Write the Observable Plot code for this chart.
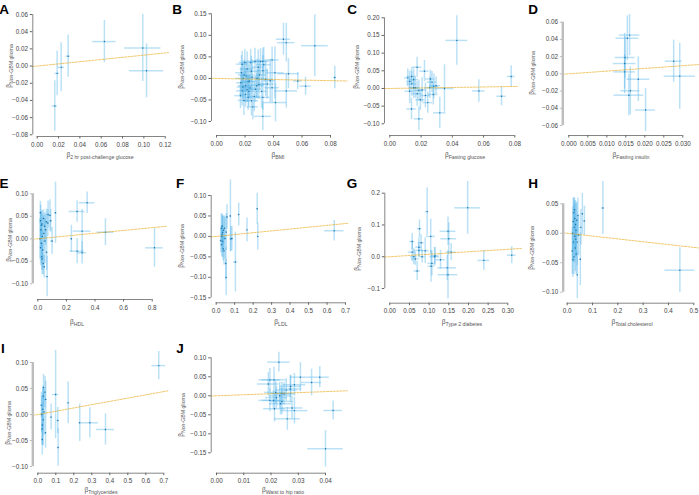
<!DOCTYPE html>
<html><head><meta charset="utf-8">
<script src="https://cdn.jsdelivr.net/npm/d3@7"></script>
<script src="https://cdn.jsdelivr.net/npm/@observablehq/plot@0.6"></script>
<style>
body{margin:0;background:#fff;}
#wrap{position:relative;width:699px;height:495px;overflow:hidden;}
#wrap svg{position:absolute;left:0;top:0;}
</style></head><body><div id="wrap"></div>
<script>
// ---- data: [beta_exposure, beta_outcome, half-width x CI, half-width y CI] ----
const twoHr = [[0.0165,-0.0465,0.0025,0.0295],[0.0187,-0.0085,0.002,0.026],[0.0225,-0.0015,0.003,0.0285],[0.029,0.0115,0.002,0.0245],[0.063,0.0285,0.011,0.0245],[0.099,0.021,0.017,0.039],[0.1025,-0.0055,0.016,0.0315]];
const bmi = [[0.083,0.002,0.001,0.026],[0.069,0.076,0.0094,0.072],[0.047,0.091,0.005,0.037],[0.049,0.083,0.006,0.045],[0.049,-0.029,0.008,0.04],[0.0625,-0.018,0.004,0.021],[0.057,-0.006,0.003,0.02],[0.0505,0.011,0.0075,0.035],[0.0414,-0.056,0.008,0.045],[0.041,0.013,0.0065,0.06],[0.0325,-0.088,0.006,0.033],[0.0325,0.04,0.005,0.03],[0.039,0.043,0.005,0.03],[0.039,-0.0215,0.005,0.035],[0.0377,-0.0055,0.004,0.05],[0.0332,0.032,0.005,0.04],[0.0325,0.018,0.004,0.035],[0.0325,-0.044,0.005,0.03],[0.0316,-0.03,0.004,0.04],[0.0297,-0.014,0.005,0.035],[0.0293,0.026,0.004,0.04],[0.0285,0.0,0.005,0.045],[0.0274,-0.025,0.004,0.03],[0.0255,-0.066,0.004,0.03],[0.0245,-0.052,0.005,0.035],[0.024,0.037,0.004,0.03],[0.023,-0.006,0.005,0.04],[0.0227,-0.03,0.004,0.035],[0.0222,-0.044,0.004,0.03],[0.0215,0.022,0.005,0.04],[0.0208,0.006,0.004,0.035],[0.0203,-0.017,0.005,0.04],[0.0199,0.037,0.004,0.03],[0.0192,-0.051,0.004,0.035],[0.0187,0.0,0.005,0.04],[0.018,0.033,0.004,0.03],[0.018,-0.029,0.004,0.035],[0.0175,0.013,0.004,0.04],[0.0171,-0.01,0.003,0.035],[0.0168,-0.04,0.004,0.03],[0.0215,-0.026,0.005,0.03],[0.0245,0.0165,0.005,0.035],[0.027,0.04,0.005,0.03],[0.0265,-0.042,0.004,0.035],[0.0236,-0.022,0.004,0.03],[0.0203,-0.037,0.004,0.03],[0.0194,0.008,0.004,0.035],[0.0222,-0.008,0.005,0.04],[0.0283,-0.017,0.005,0.03],[0.0302,0.008,0.005,0.035],[0.0345,-0.002,0.005,0.04],[0.0356,-0.013,0.005,0.035],[0.0309,0.039,0.005,0.03],[0.0185,-0.02,0.004,0.03],[0.025,0.003,0.005,0.04]];
const fastGlu = [[0.0429,0.136,0.007,0.07],[0.0777,0.034,0.0025,0.03],[0.057,-0.007,0.004,0.032],[0.0715,-0.022,0.003,0.027],[0.035,0.0,0.006,0.067],[0.032,-0.069,0.004,0.044],[0.0186,-0.086,0.003,0.034],[0.0139,-0.058,0.003,0.03],[0.0175,0.06,0.003,0.028],[0.0115,0.03,0.002,0.025],[0.0127,0.02,0.002,0.03],[0.014,0.013,0.003,0.035],[0.0153,0.025,0.003,0.03],[0.0127,-0.008,0.003,0.035],[0.0164,0.002,0.003,0.03],[0.0175,-0.015,0.003,0.035],[0.0186,-0.006,0.003,0.03],[0.0196,-0.032,0.003,0.03],[0.0207,-0.004,0.003,0.035],[0.0222,0.049,0.003,0.03],[0.0228,-0.02,0.003,0.035],[0.0243,-0.04,0.003,0.03],[0.0256,0.002,0.003,0.03],[0.026,0.027,0.003,0.025],[0.027,0.018,0.003,0.03],[0.0282,0.006,0.003,0.035],[0.0296,0.008,0.003,0.025],[0.0278,-0.017,0.003,0.03],[0.014,0.034,0.003,0.025],[0.0153,0.002,0.003,0.03]];
const fastIns = [[0.016,0.045,0.0027,0.024],[0.0154,0.0414,0.003,0.026],[0.0147,0.012,0.003,0.035],[0.0147,0.0023,0.0028,0.02],[0.0148,0.019,0.0026,0.024],[0.0162,-0.0197,0.0025,0.028],[0.0158,-0.0248,0.0039,0.024],[0.0183,-0.0062,0.003,0.026],[0.0202,-0.042,0.0026,0.025],[0.0276,0.0147,0.0022,0.0245],[0.0292,-0.0027,0.0041,0.0383]];
const hdl = [[0.816,-0.02,0.062,0.043],[0.473,0.0147,0.058,0.03],[0.345,0.08,0.055,0.024],[0.275,0.0607,0.055,0.024],[0.31,0.017,0.062,0.048],[0.275,-0.0275,0.05,0.028],[0.31,-0.031,0.03,0.025],[0.235,0.0,0.008,0.03],[0.124,0.058,0.008,0.068],[0.065,-0.084,0.008,0.045],[0.072,0.054,0.01,0.03],[0.018,0.058,0.005,0.025],[0.02,0.04,0.006,0.035],[0.022,0.02,0.005,0.04],[0.025,-0.01,0.006,0.045],[0.02,-0.02,0.005,0.04],[0.028,-0.04,0.007,0.03],[0.03,0.033,0.008,0.03],[0.032,0.005,0.006,0.05],[0.035,-0.025,0.006,0.045],[0.038,-0.055,0.007,0.025],[0.04,0.045,0.01,0.02],[0.042,0.012,0.006,0.04],[0.045,-0.062,0.008,0.025],[0.048,0.028,0.007,0.03],[0.05,-0.005,0.01,0.05],[0.055,0.02,0.009,0.035],[0.06,0.038,0.01,0.028],[0.062,-0.03,0.008,0.04],[0.07,0.035,0.01,0.03],[0.085,0.052,0.012,0.035],[0.09,0.04,0.01,0.025],[0.1,-0.005,0.01,0.03],[0.025,0.03,0.005,0.03],[0.03,-0.045,0.006,0.035],[0.015,0.0,0.004,0.045]];
const ldl = [[0.639,0.0139,0.053,0.025],[0.222,0.0675,0.003,0.038],[0.225,0.0,0.003,0.033],[0.167,0.016,0.003,0.029],[0.122,0.0537,0.004,0.028],[0.104,-0.0626,0.01,0.073],[0.077,0.05,0.005,0.088],[0.079,-0.006,0.004,0.03],[0.054,-0.1,0.004,0.045],[0.052,-0.066,0.004,0.04],[0.055,0.0106,0.005,0.045],[0.0586,0.0475,0.005,0.03],[0.025,-0.01,0.005,0.03],[0.028,0.02,0.005,0.035],[0.03,-0.02,0.006,0.03],[0.032,0.025,0.005,0.03],[0.033,0.005,0.006,0.045],[0.035,-0.012,0.006,0.04],[0.036,0.01,0.005,0.04],[0.038,-0.03,0.006,0.03],[0.04,0.015,0.006,0.035],[0.042,-0.035,0.005,0.035],[0.045,0.02,0.006,0.03],[0.03,0.0,0.004,0.025],[0.048,-0.005,0.006,0.05],[0.085,-0.005,0.008,0.03]];
const t2d = [[0.198,0.154,0.033,0.083],[0.095,0.142,0.004,0.075],[0.104,0.064,0.012,0.055],[0.105,-0.03,0.008,0.05],[0.0755,0.088,0.0055,0.028],[0.15,0.0566,0.02,0.05],[0.148,0.08,0.02,0.045],[0.148,-0.0566,0.025,0.076],[0.156,0.0146,0.012,0.027],[0.146,-0.035,0.024,0.04],[0.239,-0.0116,0.015,0.031],[0.31,0.005,0.011,0.027],[0.129,-0.0095,0.012,0.03],[0.114,0.0,0.012,0.03],[0.107,-0.021,0.01,0.04],[0.0696,-0.045,0.008,0.03],[0.057,0.048,0.007,0.025],[0.074,0.03,0.008,0.03],[0.057,0.0146,0.01,0.03],[0.074,0.02,0.012,0.02],[0.061,0.0,0.008,0.025],[0.065,-0.007,0.01,0.02],[0.0797,0.044,0.008,0.025],[0.09,0.019,0.01,0.04],[0.082,0.0,0.008,0.02],[0.115,0.003,0.01,0.025]];
const tc = [[0.445,-0.0627,0.059,0.038],[0.141,0.0429,0.004,0.045],[0.068,0.021,0.004,0.025],[0.06,0.033,0.005,0.035],[0.054,0.01,0.004,0.03],[0.052,-0.044,0.004,0.045],[0.04,-0.0706,0.004,0.04],[0.02,-0.03,0.003,0.04],[0.022,0.0,0.003,0.045],[0.024,0.02,0.003,0.04],[0.025,-0.015,0.003,0.035],[0.026,0.035,0.004,0.025],[0.027,-0.04,0.003,0.03],[0.028,0.01,0.003,0.04],[0.03,-0.005,0.004,0.045],[0.03,0.025,0.003,0.03],[0.032,-0.025,0.004,0.04],[0.033,0.015,0.003,0.04],[0.034,-0.01,0.004,0.03],[0.035,0.005,0.003,0.045],[0.036,-0.035,0.004,0.035],[0.038,0.022,0.004,0.03],[0.04,-0.015,0.004,0.04],[0.042,0.03,0.004,0.03],[0.045,-0.003,0.005,0.035],[0.023,-0.045,0.003,0.03],[0.029,0.04,0.003,0.02]];
const tg = [[0.672,0.094,0.038,0.027],[0.376,-0.0288,0.05,0.03],[0.289,-0.016,0.048,0.029],[0.233,-0.016,0.005,0.036],[0.169,0.0224,0.005,0.04],[0.111,-0.0115,0.005,0.025],[0.113,-0.0635,0.005,0.036],[0.099,0.0385,0.018,0.085],[0.074,-0.005,0.005,0.025],[0.044,0.029,0.005,0.035],[0.04,0.043,0.004,0.03],[0.043,-0.035,0.004,0.03],[0.02,0.018,0.004,0.025],[0.022,0.0,0.004,0.035],[0.024,-0.028,0.004,0.03],[0.025,-0.048,0.004,0.03],[0.028,0.01,0.005,0.04],[0.03,-0.01,0.004,0.05],[0.032,0.052,0.004,0.025],[0.035,0.005,0.005,0.045],[0.026,-0.02,0.003,0.04],[0.03,0.035,0.004,0.02]];
const whr = [[0.04,-0.1395,0.0065,0.048],[0.0428,-0.0387,0.0034,0.025],[0.0379,0.049,0.0035,0.028],[0.0349,0.035,0.0037,0.035],[0.0308,0.049,0.0037,0.038],[0.0229,0.0886,0.0041,0.026],[0.0286,0.029,0.0042,0.03],[0.0272,0.0246,0.004,0.03],[0.026,-0.0606,0.0047,0.03],[0.0286,-0.039,0.0049,0.035],[0.0277,-0.032,0.004,0.03],[0.0213,-0.034,0.004,0.035],[0.0211,0.042,0.0044,0.033],[0.0196,0.042,0.004,0.03],[0.019,0.031,0.004,0.03],[0.0196,-0.012,0.004,0.03],[0.0209,-0.012,0.004,0.025],[0.0232,0.0,0.004,0.035],[0.0248,0.005,0.004,0.03],[0.024,0.006,0.004,0.03],[0.0217,0.009,0.004,0.03],[0.0256,0.015,0.004,0.03],[0.0271,0.018,0.004,0.035],[0.0235,-0.021,0.004,0.03],[0.024,-0.015,0.004,0.035],[0.022,-0.005,0.004,0.03]];

// IVW slopes (dashed line through origin), in panel order A..J
const slopes = [0.127, -0.065, 0.07, 0.316, 0.031, 0.045, 0.078, -0.048, 0.063, 0.275];

// panel letters and axis label texts
const letters = ["A","B","C","D","E","F","G","H","I","J"];
const exposures = ["2 hr post-challenge glucose","BMI","Fasting glucose","Fasting insulin","HDL","LDL","Type 2 diabetes","Total cholesterol","Triglycerides","Waist to hip ratio"];
const outcomeLabel = "Non-GBM glioma";
const datasets = [twoHr, bmi, fastGlu, fastIns, hdl, ldl, t2d, tc, tg, whr];

// tick labels
const xTicksA = [0,0.02,0.04,0.06,0.08,0.10,0.12], yTicksA = [-0.08,-0.06,-0.04,-0.02,0,0.02,0.04,0.06];
const xTicksB = [0,0.02,0.04,0.06,0.08], yTicksB = [-0.10,-0.05,0,0.05,0.10,0.15];
const xTicksC = [0,0.02,0.04,0.06,0.08], yTicksC = [-0.10,-0.05,0,0.05,0.10,0.15,0.20];
const xTicksD = [0,0.005,0.010,0.015,0.020,0.025,0.030], yTicksD = [-0.06,-0.04,-0.02,0,0.02,0.04,0.06];
const xTicksE = [0,0.2,0.4,0.6,0.8], yTicksE = [-0.10,-0.05,0,0.05,0.10];
const xTicksF = [0,0.1,0.2,0.3,0.4,0.5,0.6,0.7], yTicksF = [-0.15,-0.10,-0.05,0,0.05,0.10];
const xTicksG = [0,0.05,0.10,0.15,0.20,0.25,0.30], yTicksG = [-0.1,0,0.1,0.2];
const xTicksH = [0,0.1,0.2,0.3,0.4,0.5], yTicksH = [-0.10,-0.05,0,0.05];
const xTicksI = [0,0.1,0.2,0.3,0.4,0.5,0.6,0.7], yTicksI = [-0.10,-0.05,0,0.05,0.10];
const xTicksJ = [0,0.01,0.02,0.03,0.04], yTicksJ = [-0.15,-0.10,-0.05,0,0.05,0.10];
const xTicks = [xTicksA,xTicksB,xTicksC,xTicksD,xTicksE,xTicksF,xTicksG,xTicksH,xTicksI,xTicksJ];
const yTicks = [yTicksA,yTicksB,yTicksC,yTicksD,yTicksE,yTicksF,yTicksG,yTicksH,yTicksI,yTicksJ];
const xFormats = [".2f",".2f",".2f",".3f",".1f",".1f",".2f",".1f",".1f",".2f"];
const yFormats = [".2f",".2f",".2f",".2f",".2f",".2f",".1f",".2f",".2f",".2f"];

// ---- layout (pixels): calibration tick->pixel, frame [L,T,R,B], label anchors ----
const W = 699, H = 495;
const layout = [
  {xcal:[0,36.7,0.12,164.7], ycal:[-0.08,134.3,0.06,14], frame:[32.3,8,168,136], letter:[4,14], xlab:[100,157], ylab:[11,66], thick:false},
  {xcal:[0,216,0.08,330], ycal:[-0.1,121,0.15,13.3], frame:[211,8,346.7,135], letter:[177,14], xlab:[278,157], ylab:[182.5,67], thick:false},
  {xcal:[0,389.3,0.08,514.3], ycal:[-0.1,123.3,0.2,17.3], frame:[384,10,516.7,135], letter:[352,14], xlab:[465,157], ylab:[357.5,67], thick:false},
  {xcal:[0,568.3,0.03,682.3], ycal:[-0.06,125,0.06,21.7], frame:[562.3,14,698.3,135], letter:[533,14], xlab:[631,157], ylab:[533.5,73], thick:true},
  {xcal:[0,37.3,0.8,151.7], ycal:[-0.1,283.3,0.1,193.3], frame:[32.3,185,166.7,299], letter:[4,188], xlab:[77,324], ylab:[10.5,240], thick:true},
  {xcal:[0,215.7,0.7,345], ycal:[-0.15,297.3,0.1,195], frame:[210.7,188,348.3,302.3], letter:[180,188], xlab:[281,324], ylab:[182.5,246], thick:false},
  {xcal:[0,389.3,0.3,507.3], ycal:[-0.1,288,0.2,192.7], frame:[384.3,185,520.7,302.7], letter:[352,188], xlab:[462,324], ylab:[359,249], thick:false},
  {xcal:[0,566.7,0.5,693.3], ycal:[-0.1,291.7,0.05,203.3], frame:[562.7,195,699,302.7], letter:[533,188], xlab:[632,324], ylab:[532.5,248], thick:true},
  {xcal:[0,37.3,0.7,163.3], ycal:[-0.1,466,0.1,362], frame:[32.3,355,168.3,472.7], letter:[3,353], xlab:[101,492], ylab:[9.5,423], thick:true},
  {xcal:[0,216,0.04,325], ycal:[-0.15,452.3,0.1,357.3], frame:[210.7,350,346.7,472.7], letter:[180,353], xlab:[283,492], ylab:[183,415], thick:false}
];

const FONT = "'Liberation Sans', Arial, Helvetica, sans-serif";
const wrap = document.getElementById("wrap");

layout.forEach((lay, i) => {
  const data = datasets[i];
  const xt = xTicks[i], yt = yTicks[i];
  const [L, T, R, B] = lay.frame;
  const px2x = p => lay.xcal[0] + (p - lay.xcal[1]) * (lay.xcal[2] - lay.xcal[0]) / (lay.xcal[3] - lay.xcal[1]);
  const py2y = p => lay.ycal[0] + (p - lay.ycal[1]) * (lay.ycal[2] - lay.ycal[0]) / (lay.ycal[3] - lay.ycal[1]);
  const xd = [px2x(L), px2x(R)];
  const yd = [py2y(B), py2y(T)];
  const axisStroke = lay.thick ? "#bdbdbd" : "#666";
  const axisW = lay.thick ? 2.4 : 0.8;
  const svg = Plot.plot({
    width: W, height: H,
    marginLeft: L, marginRight: W - R, marginTop: T, marginBottom: H - B,
    x: {domain: xd}, y: {domain: yd},
    style: {background: "transparent", overflow: "visible", fontFamily: FONT, color: "#444"},
    marks: [
      Plot.ruleX(data, {x: d => d[0], y1: d => d[1] - d[3], y2: d => d[1] + d[3], stroke: "#56B4E9", strokeOpacity: 0.4, strokeWidth: 1.5}),
      Plot.ruleY(data, {y: d => d[1], x1: d => d[0] - d[2], x2: d => d[0] + d[2], stroke: "#56B4E9", strokeOpacity: 0.4, strokeWidth: 1.5}),
      Plot.dot(data, {x: d => d[0], y: d => d[1], r: 0.7, fill: "#1f6fa3", stroke: null}),
      Plot.line(xd.map(x => [x, slopes[i] * x]), {stroke: "#E69F00", strokeOpacity: 0.65, strokeWidth: 0.9, strokeDasharray: "2,1.3"}),
      Plot.ruleY([yd[0]], {x1: xt[0], x2: xt[xt.length - 1], stroke: "#666", strokeWidth: 0.8}),
      Plot.ruleX([xd[0]], {y1: yt[0], y2: yt[yt.length - 1], stroke: axisStroke, strokeWidth: axisW}),
      Plot.axisX({ticks: xt, anchor: "bottom", tickSize: 2.5, tickPadding: 3.2, tickFormat: d3.format(xFormats[i]), fontSize: 6.3, label: null, stroke: "#666"}),
      Plot.axisY({ticks: yt, anchor: "left", tickSize: 2.5, tickPadding: 2.4, tickFormat: d3.format(yFormats[i]), fontSize: 6.3, label: null, stroke: axisStroke})
    ]
  });
  const s = d3.select(svg);
  s.append("text").attr("x", lay.letter[0]).attr("y", lay.letter[1])
    .attr("font-family", FONT).attr("font-weight", "bold").attr("font-size", 13.5).attr("fill", "#000")
    .text(letters[i]);
  const xl = s.append("text").attr("x", lay.xlab[0]).attr("y", lay.xlab[1])
    .attr("text-anchor", "middle").attr("font-family", FONT).attr("fill", "#555");
  xl.append("tspan").attr("font-size", 6.5).text("β");
  xl.append("tspan").attr("font-size", 5.2).attr("dy", 1.5).text(exposures[i]);
  const yl = s.append("text").attr("transform", `translate(${lay.ylab[0]},${lay.ylab[1]}) rotate(-90)`)
    .attr("text-anchor", "middle").attr("font-family", FONT).attr("fill", "#555");
  yl.append("tspan").attr("font-size", 6.5).text("β");
  yl.append("tspan").attr("font-size", 5.2).attr("dy", 1.5).text(outcomeLabel);
  wrap.appendChild(svg);
});
</script></body></html>
